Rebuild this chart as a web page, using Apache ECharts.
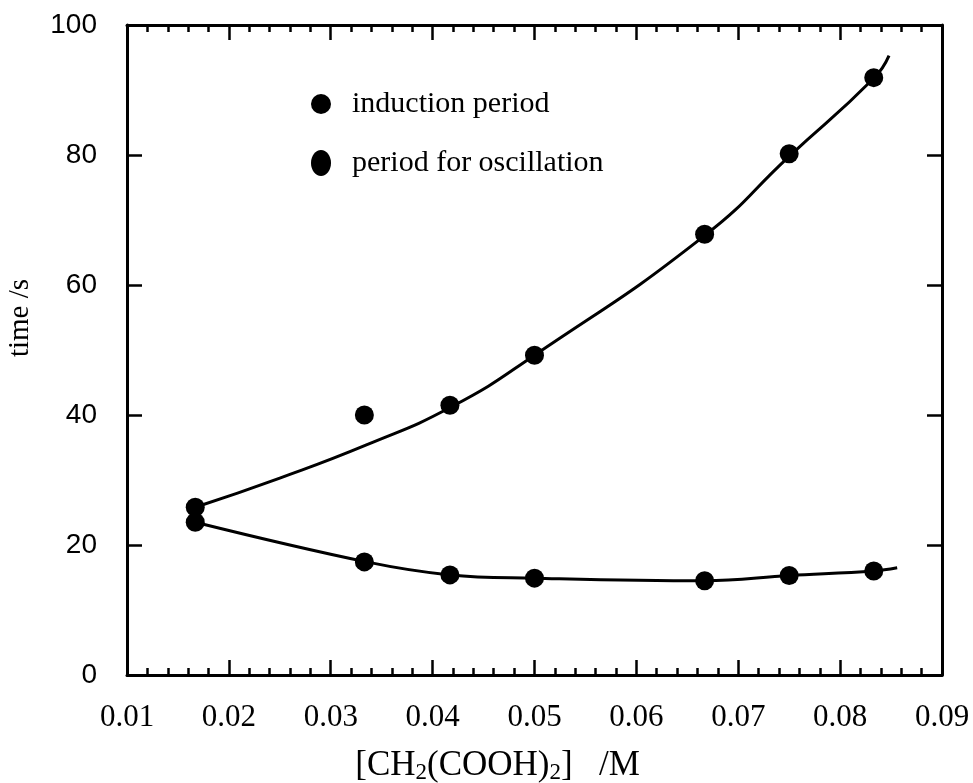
<!DOCTYPE html>
<html>
<head>
<meta charset="utf-8">
<script src="https://cdn.jsdelivr.net/npm/echarts@6/dist/echarts.min.js"></script>
<style>
  html, body { margin: 0; padding: 0; background: #fff; }
  #chart { width: 973px; height: 783px; }
</style>
</head>
<body>
<div id="chart"></div>
<script>
  // measured points
  var conc = [0.0167, 0.0333, 0.0417, 0.05, 0.0667, 0.075, 0.0833];
  var induction = [25.8, 40.0, 41.5, 49.2, 67.8, 80.2, 91.9];
  var oscillation = [23.5, 17.4, 15.4, 14.9, 14.5, 15.3, 16.0];

  // fitted curves
  var fitUpperX = [0.0167, 0.025, 0.0335, 0.0419, 0.05, 0.0667, 0.075, 0.0833, 0.0848];
  var fitUpperY = [25.8, 30.3, 35.4, 41.3, 49.2, 67.6, 79.8, 91.8, 95.3];
  var fitLowerX = [0.0167, 0.0335, 0.0417, 0.05, 0.0667, 0.075, 0.0833, 0.0856];
  var fitLowerY = [23.5, 17.4, 15.4, 14.9, 14.5, 15.3, 16.0, 16.5];

  var xTicks = ['0.01', '0.02', '0.03', '0.04', '0.05', '0.06', '0.07', '0.08', '0.09'];
  var yTicks = ['0', '20', '40', '60', '80', '100'];

  function pairs(xs, ys) {
    return xs.map(function (x, i) { return [x, ys[i]]; });
  }

  var serif = '"Liberation Serif", "Times New Roman", serif';
  var sans = '"Liberation Sans", Arial, sans-serif';
  var lineStyleAxis = { color: '#000', width: 3 };
  var tickStyle = { color: '#000', width: 2.5 };
  var ellipse = 'path://M10,0 C15.5,0 20,5.8 20,13 C20,20.2 15.5,26 10,26 C4.5,26 0,20.2 0,13 C0,5.8 4.5,0 10,0 Z';

  var myChart = echarts.init(document.getElementById('chart'));

  var option = {
    animation: false,
    backgroundColor: '#fff',
    grid: {
      left: 127,
      right: 31,
      top: 25,
      bottom: 108,
      outerBoundsMode: 'none',
      containLabel: false
    },
    legend: {
      orient: 'vertical',
      left: 306,
      top: 84,
      itemWidth: 20,
      itemHeight: 26,
      itemGap: 29,
      selectedMode: false,
      textStyle: {
        fontFamily: serif,
        fontSize: 30,
        color: '#000',
        padding: [0, 0, 0, 16]
      },
      data: [
        { name: 'induction period', icon: 'circle' },
        { name: 'period for oscillation', icon: ellipse }
      ]
    },
    xAxis: [{
      type: 'value',
      min: 0.01,
      max: 0.09,
      interval: 0.01,
      name: '[CH{s|2}(COOH){s|2}]   /M',
      nameLocation: 'middle',
      nameGap: 72,
      nameTextStyle: {
        fontFamily: serif,
        fontSize: 35,
        color: '#000',
        padding: [0, 74, 0, 0],
        rich: {
          s: { fontFamily: serif, fontSize: 23, color: '#000', verticalAlign: 'bottom', padding: [14, 0, 0, 0] }
        }
      },
      axisLine: { onZero: false, lineStyle: lineStyleAxis },
      axisTick: { inside: true, length: 15, lineStyle: tickStyle },
      minorTick: { show: true, splitNumber: 5, length: 7, lineStyle: tickStyle },
      splitLine: { show: false },
      axisLabel: {
        margin: 27,
        fontFamily: serif,
        fontSize: 31,
        color: '#000',
        formatter: function (v) {
          return xTicks[Math.round((v - 0.01) / 0.01)];
        }
      }
    }, {
      type: 'value',
      position: 'top',
      min: 0.01,
      max: 0.09,
      interval: 0.01,
      axisLine: { onZero: false, lineStyle: lineStyleAxis },
      axisTick: { inside: true, length: 15, lineStyle: tickStyle },
      minorTick: { show: true, splitNumber: 5, length: 7, lineStyle: tickStyle },
      splitLine: { show: false },
      axisLabel: { show: false }
    }],
    yAxis: [{
      type: 'value',
      min: 0,
      max: 100,
      interval: 20,
      name: 'time /s',
      nameLocation: 'middle',
      nameGap: 92,
      nameTextStyle: {
        fontFamily: serif,
        fontSize: 29,
        color: '#000',
        padding: [0, 0, 0, 64]
      },
      axisLine: { show: true, onZero: false, lineStyle: lineStyleAxis },
      axisTick: { inside: true, length: 15, lineStyle: tickStyle },
      splitLine: { show: false },
      axisLabel: {
        margin: 30,
        fontFamily: sans,
        fontSize: 28,
        color: '#000',
        formatter: function (v) {
          return yTicks[Math.round(v / 20)];
        }
      }
    }, {
      type: 'value',
      position: 'right',
      min: 0,
      max: 100,
      interval: 20,
      axisLine: { show: true, onZero: false, lineStyle: lineStyleAxis },
      axisTick: { inside: true, length: 15, lineStyle: tickStyle },
      splitLine: { show: false },
      axisLabel: { show: false }
    }],
    series: [
      {
        name: 'fit induction',
        type: 'line',
        smooth: 0.5,
        showSymbol: false,
        silent: true,
        lineStyle: { color: '#000', width: 3 },
        data: pairs(fitUpperX, fitUpperY)
      },
      {
        name: 'fit oscillation',
        type: 'line',
        smooth: 0.4,
        showSymbol: false,
        silent: true,
        lineStyle: { color: '#000', width: 3 },
        data: pairs(fitLowerX, fitLowerY)
      },
      {
        name: 'induction period',
        type: 'scatter',
        symbol: 'circle',
        symbolSize: 19,
        itemStyle: { color: '#000', opacity: 1 },
        data: pairs(conc, induction)
      },
      {
        name: 'period for oscillation',
        type: 'scatter',
        symbol: 'circle',
        symbolSize: 19,
        itemStyle: { color: '#000', opacity: 1 },
        data: pairs(conc, oscillation)
      }
    ]
  };

  myChart.setOption(option);
</script>
</body>
</html>
